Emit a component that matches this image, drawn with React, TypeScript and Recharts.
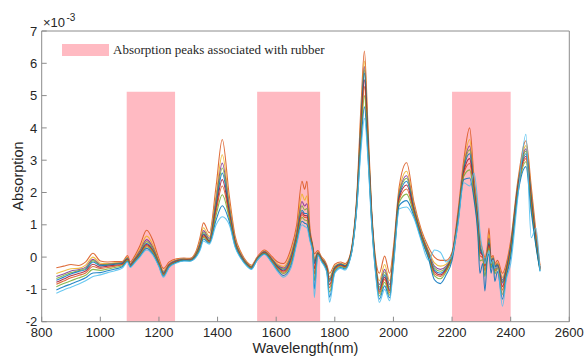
import React from 'react';
import { LineChart, Line, XAxis, YAxis, ReferenceArea } from 'recharts';

const wavelengths = [850, 875, 900, 925, 950, 975, 1000, 1025, 1050, 1075, 1093, 1102, 1115, 1135, 1158, 1180, 1200, 1215, 1235, 1260, 1285, 1305, 1325, 1340, 1352, 1372, 1395, 1416, 1440, 1460, 1480, 1500, 1515, 1535, 1560, 1585, 1605, 1625, 1650, 1670, 1688, 1697, 1705, 1715, 1725, 1730, 1742, 1755, 1765, 1773, 1782, 1800, 1820, 1835, 1848, 1860, 1875, 1890, 1901, 1912, 1925, 1940, 1952, 1970, 1987, 2000, 2020, 2045, 2070, 2095, 2120, 2140, 2160, 2180, 2200, 2220, 2240, 2260, 2275, 2288, 2295, 2305, 2312, 2320, 2326, 2333, 2340, 2346, 2355, 2372, 2385, 2400, 2425, 2452, 2470, 2486, 2500];

const spectrum01 = [-0.33,-0.28,-0.23,-0.26,-0.15,0.12,-0.12,-0.15,-0.14,-0.14, 0.05,-0.15,0,0.35,0.83,0.5,-0.05,-0.35,-0.15,-0.05, -0.03,-0.04,0.15,0.6,1.06,0.75,2.2,3.64,1.9,0.65, 0.15,-0.15,-0.25,0,0.22,0.02,-0.15,-0.2,0.25,1.0, 2.35,2.1,2.35,0.9,0.35,0.1,0.2,0,-0.1,-0.25, -0.5,-0.22,-0.15,-0.2,-0.05,0.45,1.9,4.8,6.38,4.3, 1.6,-0.1,-0.5,0.03,-0.5,0.3,2.2,2.92,1.7,0.85, 0.3,0.0,-0.1,-0.1,0.15,1.4,3.0,4.0,2.45,1.45, 0.6,0.2,0,0.3,0.9,0,0.05,-0.2,-0.1,-0.5, -0.2,0.5,2.4,3.6,2.2,0.8,-0.25];
const spectrum02 = [-0.51,-0.43,-0.36,-0.35,-0.25,0.0,-0.19,-0.2,-0.18,-0.17, 0.0,-0.2,-0.05,0.25,0.65,0.37,-0.12,-0.42,-0.2,-0.08, -0.05,-0.06,0.1,0.49,0.91,0.64,1.93,3.17,1.68,0.56, 0.1,-0.18,-0.28,-0.03,0.19,-0.03,-0.22,-0.29,0.12,0.84, 1.95,1.76,1.9,0.81,0.31,-0.04,0.16,-0.03,-0.14,-0.3, -0.61,-0.27,-0.19,-0.24,-0.08,0.41,1.81,4.53,6.07,4.08, 1.51,-0.21,-0.73,-0.23,-0.73,0.17,2.07,2.66,1.59,0.77, 0.2,-0.18,-0.28,-0.22,0.1,1.31,2.87,3.64,2.3,1.3, 0.45,0.13,-0.07,0.21,0.7,-0.07,0,-0.25,-0.17,-0.63, -0.29,0.41,2.31,3.45,2.05,0.67,-0.3];
const spectrum03 = [-0.6,-0.52,-0.43,-0.39,-0.31,-0.07,-0.23,-0.22,-0.2,-0.18, -0.02,-0.22,-0.08,0.19,0.54,0.29,-0.16,-0.46,-0.22,-0.1, -0.06,-0.07,0.08,0.43,0.82,0.58,1.78,2.91,1.55,0.51, 0.07,-0.2,-0.3,-0.04,0.17,-0.05,-0.26,-0.34,0.04,0.76, 1.72,1.58,1.65,0.76,0.28,-0.11,0.14,-0.05,-0.16,-0.32, -0.68,-0.3,-0.21,-0.26,-0.1,0.38,1.76,4.38,5.9,3.95, 1.46,-0.28,-0.85,-0.38,-0.85,0.09,1.99,2.52,1.53,0.73, 0.15,-0.28,-0.38,-0.28,0.08,1.26,2.79,3.44,2.2,1.2, 0.38,0.09,-0.1,0.16,0.59,-0.1,-0.02,-0.27,-0.21,-0.71, -0.34,0.36,2.26,3.35,1.95,0.6,-0.32];
const spectrum04 = [-0.66,-0.57,-0.48,-0.42,-0.35,-0.11,-0.25,-0.23,-0.21,-0.19, -0.04,-0.24,-0.1,0.15,0.48,0.25,-0.18,-0.48,-0.24,-0.11, -0.07,-0.08,0.07,0.39,0.77,0.54,1.69,2.76,1.48,0.48, 0.05,-0.21,-0.31,-0.05,0.16,-0.07,-0.28,-0.37,0,0.7, 1.59,1.46,1.5,0.73,0.27,-0.16,0.13,-0.06,-0.17,-0.34, -0.71,-0.31,-0.22,-0.27,-0.11,0.37,1.73,4.29,5.8,3.88, 1.43,-0.31,-0.93,-0.46,-0.93,0.05,1.95,2.44,1.49,0.71, 0.11,-0.34,-0.44,-0.32,0.06,1.23,2.75,3.32,2.15,1.15, 0.34,0.07,-0.12,0.13,0.52,-0.13,-0.04,-0.29,-0.23,-0.76, -0.37,0.33,2.23,3.28,1.88,0.55,-0.34];
const spectrum05 = [-0.72,-0.62,-0.52,-0.45,-0.38,-0.15,-0.27,-0.25,-0.22,-0.2, -0.05,-0.25,-0.12,0.12,0.42,0.2,-0.2,-0.5,-0.25,-0.12, -0.08,-0.09,0.05,0.35,0.72,0.5,1.6,2.6,1.4,0.45, 0.03,-0.22,-0.32,-0.06,0.15,-0.08,-0.3,-0.4,-0.05,0.65, 1.45,1.35,1.35,0.7,0.25,-0.2,0.12,-0.07,-0.18,-0.35, -0.75,-0.33,-0.23,-0.28,-0.12,0.35,1.7,4.2,5.7,3.8, 1.4,-0.35,-1.0,-0.55,-1.0,0,1.9,2.35,1.45,0.68, 0.08,-0.4,-0.5,-0.35,0.05,1.2,2.7,3.2,2.1,1.1, 0.3,0.05,-0.15,0.1,0.45,-0.15,-0.05,-0.3,-0.25,-0.8, -0.4,0.3,2.2,3.2,1.8,0.5,-0.35];
const spectrum06 = [-0.78,-0.68,-0.58,-0.51,-0.43,-0.22,-0.31,-0.28,-0.25,-0.22, -0.07,-0.26,-0.13,0.1,0.39,0.18,-0.22,-0.52,-0.26,-0.13, -0.09,-0.1,0.04,0.33,0.69,0.49,1.51,2.4,1.34,0.43, 0.02,-0.23,-0.33,-0.07,0.14,-0.1,-0.32,-0.43,-0.1,0.61, 1.38,1.29,1.28,0.67,0.23,-0.36,0.11,-0.08,-0.2,-0.37, -0.85,-0.36,-0.25,-0.3,-0.13,0.34,1.67,4.08,5.49,3.71, 1.36,-0.39,-1.06,-0.62,-1.05,-0.05,1.84,2.23,1.41,0.65, 0.05,-0.46,-0.55,-0.38,0.03,1.17,2.64,3.05,2.03,1.03, 0.18,0.02,-0.28,0.07,0.4,-0.2,-0.07,-0.37,-0.28,-0.91, -0.45,0.24,2.16,3.12,1.72,0.47,-0.37];
const spectrum07 = [-0.84,-0.74,-0.64,-0.57,-0.49,-0.29,-0.35,-0.32,-0.28,-0.24, -0.08,-0.27,-0.14,0.08,0.36,0.16,-0.23,-0.54,-0.27,-0.14, -0.09,-0.1,0.03,0.31,0.65,0.47,1.42,2.2,1.28,0.41, 0.01,-0.24,-0.34,-0.07,0.13,-0.11,-0.35,-0.47,-0.14,0.58, 1.32,1.23,1.22,0.64,0.2,-0.52,0.1,-0.09,-0.22,-0.4, -0.95,-0.38,-0.27,-0.32,-0.14,0.32,1.64,3.96,5.28,3.62, 1.31,-0.43,-1.12,-0.69,-1.11,-0.09,1.78,2.11,1.38,0.63, 0.03,-0.52,-0.6,-0.41,0.01,1.14,2.58,2.9,1.96,0.95, 0.05,-0.02,-0.42,0.04,0.35,-0.25,-0.1,-0.43,-0.31,-1.02, -0.49,0.18,2.11,3.05,1.65,0.44,-0.39];
const spectrum08 = [-0.92,-0.82,-0.73,-0.65,-0.56,-0.38,-0.41,-0.37,-0.32,-0.27, -0.1,-0.29,-0.16,0.06,0.32,0.13,-0.25,-0.56,-0.29,-0.15, -0.1,-0.11,0.02,0.28,0.61,0.45,1.3,1.93,1.2,0.38, -0.01,-0.25,-0.35,-0.08,0.12,-0.13,-0.38,-0.51,-0.2,0.53, 1.23,1.15,1.13,0.6,0.18,-0.73,0.09,-0.11,-0.24,-0.43, -1.08,-0.42,-0.29,-0.34,-0.16,0.3,1.6,3.8,5.0,3.5, 1.25,-0.48,-1.2,-0.78,-1.18,-0.15,1.7,1.95,1.33,0.59, -0.01,-0.58,-0.67,-0.45,-0.02,1.1,2.5,2.7,1.88,0.85, -0.12,-0.08,-0.6,0,0.28,-0.33,-0.12,-0.52,-0.35,-1.16, -0.55,0.1,2.05,2.95,1.55,0.4,-0.41];
const spectrum09 = [-1.02,-0.92,-0.83,-0.74,-0.64,-0.49,-0.48,-0.42,-0.37,-0.3, -0.13,-0.3,-0.18,0.03,0.27,0.09,-0.28,-0.59,-0.3,-0.16, -0.11,-0.12,0,0.24,0.56,0.43,1.15,1.59,1.1,0.34, -0.03,-0.27,-0.37,-0.09,0.1,-0.16,-0.41,-0.57,-0.28,0.46, 1.11,1.05,1.01,0.55,0.14,-0.99,0.07,-0.13,-0.27,-0.46, -1.24,-0.46,-0.32,-0.37,-0.18,0.28,1.55,3.6,4.65,3.35, 1.18,-0.54,-1.3,-0.89,-1.26,-0.23,1.6,1.75,1.26,0.55, -0.06,-0.7,-0.82,-0.55,-0.1,1.05,2.4,2.45,1.78,0.7, -0.5,-0.2,-1.05,-0.1,0.1,-0.5,-0.2,-0.75,-0.45,-1.3, -0.62,0,1.98,2.8,1.4,0.35,-0.43];
const spectrum10 = [-1.12,-1.02,-0.93,-0.84,-0.73,-0.6,-0.55,-0.48,-0.42,-0.34, -0.15,-0.32,-0.2,0,0.22,0.05,-0.3,-0.62,-0.32,-0.18, -0.12,-0.13,-0.02,0.2,0.5,0.4,1.0,1.25,1.0,0.3, -0.05,-0.28,-0.38,-0.1,0.08,-0.18,-0.45,-0.62,-0.35,0.4, 1.0,0.95,0.9,0.5,0.1,-1.25,0.05,-0.15,-0.3,-0.5, -1.4,-0.5,-0.35,-0.4,-0.2,0.25,1.5,3.4,4.3,3.2, 1.1,-0.6,-1.4,-1.0,-1.35,-0.3,1.5,1.55,1.2,0.5, -0.1,0.22,0.15,-0.15,0.05,1.0,2.3,2.2,2.6,1.65, 0.8,0.15,-0.2,0.05,0.2,-0.2,-0.08,-0.35,-0.3,-1.52, -0.7,-0.2,1.9,3.8,0.6,0.9,-0.45];

const spectra = [spectrum01, spectrum02, spectrum03, spectrum04, spectrum05, spectrum06, spectrum07, spectrum08, spectrum09, spectrum10];
const spectrumColors = ['#D95319', '#EDB120', '#7E2F8E', '#77AC30', '#0072BD', '#A2142F', '#D95319', '#77AC30', '#0072BD', '#4DBEEE'];

const bandStarts = [1090, 1535, 2200];
const bandEnds = [1255, 1750, 2400];
const bandTop = 5.12;

const xTicks = [800, 1000, 1200, 1400, 1600, 1800, 2000, 2200, 2400, 2600];
const yTicks = [-2, -1, 0, 1, 2, 3, 4, 5, 6, 7];

const legendLabel = 'Absorption peaks associated with rubber';
const xLabel = 'Wavelength(nm)';
const yLabel = 'Absorption';

const rows = wavelengths.map((wl, i) => {
  const r: Record<string, number> = { wl };
  spectra.forEach((s, k) => {
    r['s' + k] = s[i];
  });
  return r;
});

const axisColor = '#8c8c8c';
const sans = '"Liberation Sans", Arial, sans-serif';
const serif = '"Liberation Serif", "Times New Roman", serif';

export default function App() {
  return (
    <div style={{ position: 'absolute', left: 0, top: 0, width: 585, height: 356, background: '#fff' }}>
      <LineChart width={585} height={356} data={rows} margin={{ top: 21, right: 5.7, bottom: 9.3, left: 11.7 }}>
        <XAxis xAxisId="b" dataKey="wl" type="number" domain={[800, 2600]} ticks={xTicks} interval={0} height={25}
          tickSize={-5} tickMargin={11.5} axisLine={{ stroke: axisColor }} tickLine={{ stroke: axisColor }}
          tick={{ fill: '#262626', fontSize: 13, fontFamily: sans }} allowDataOverflow />
        <XAxis xAxisId="t" orientation="top" dataKey="wl" type="number" domain={[800, 2600]} ticks={xTicks} interval={0} height={10}
          tickSize={-5} axisLine={{ stroke: axisColor }} tickLine={{ stroke: axisColor }} tick={false} allowDataOverflow />
        <YAxis yAxisId="l" type="number" domain={[-2, 7]} ticks={yTicks} interval={0} width={30}
          tickSize={-5} tickMargin={9.4} axisLine={{ stroke: axisColor }} tickLine={{ stroke: axisColor }}
          tick={{ fill: '#262626', fontSize: 13, fontFamily: sans }} allowDataOverflow />
        <YAxis yAxisId="r" orientation="right" type="number" domain={[-2, 7]} ticks={yTicks} interval={0} width={10}
          tickSize={-5} axisLine={{ stroke: axisColor }} tickLine={{ stroke: axisColor }} tick={false} allowDataOverflow />
        {bandStarts.map((x1, i) => (
          <ReferenceArea key={'band' + i} xAxisId="b" yAxisId="l" x1={x1} x2={bandEnds[i]} y1={-2} y2={bandTop}
            fill="#FFBAC2" fillOpacity={1} stroke="none" ifOverflow="hidden" />
        ))}
        {spectra.map((_, k) => (
          <Line key={'s' + k} xAxisId="b" yAxisId="l" dataKey={'s' + k} type="monotone" dot={false}
            stroke={spectrumColors[k]} strokeWidth={1.1} strokeOpacity={0.85} isAnimationActive={false} />
        ))}
      </LineChart>
      <svg width={585} height={356} style={{ position: 'absolute', left: 0, top: 0, pointerEvents: 'none' }}>
        <text x={43} y={27.3} fontSize={13} fontFamily={sans} fill="#262626">×10</text>
        <text x={66.5} y={20.5} fontSize={10} fontFamily={sans} fill="#262626">-3</text>
        <rect x={62} y={44} width={47} height={12} fill="#FFBAC2" />
        <text x={113} y={54.3} fontSize={13} fontFamily={serif} fill="#262626">{legendLabel}</text>
        <text transform="translate(22.5,176) rotate(-90)" textAnchor="middle" fontSize={14.5} fontFamily={sans} fill="#262626">{yLabel}</text>
        <text x={305.5} y={352.7} textAnchor="middle" fontSize={14.5} fontFamily={sans} fill="#262626">{xLabel}</text>
      </svg>
    </div>
  );
}
